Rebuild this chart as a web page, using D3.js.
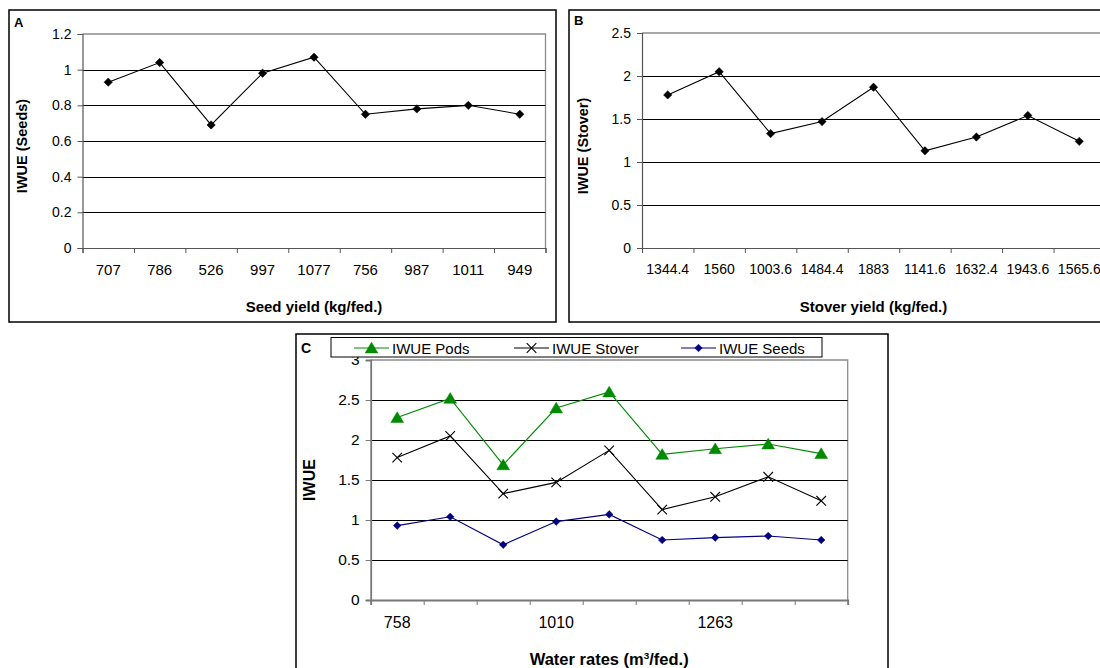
<!DOCTYPE html>
<html>
<head>
<meta charset="utf-8">
<script src="https://cdn.jsdelivr.net/npm/d3@7"></script>
<style>
  html, body { margin: 0; padding: 0; background: #fff; }
  svg { display: block; }
  text { font-family: "Liberation Sans", Arial, sans-serif; fill: #000; }
</style>
</head>
<body>
<svg id="chart" width="1100" height="668"></svg>
<script>
// ---------------- data ----------------
const seedYield   = ["707", "786", "526", "997", "1077", "756", "987", "1011", "949"];
const stoverYield = ["1344.4", "1560", "1003.6", "1484.4", "1883", "1141.6", "1632.4", "1943.6", "1565.6"];
const waterRateLabels = ["758", "", "", "1010", "", "", "1263", "", ""];

const iwueSeeds  = [0.93, 1.04, 0.69, 0.98, 1.07, 0.75, 0.78, 0.80, 0.75];
const iwueStover = [1.78, 2.05, 1.33, 1.47, 1.87, 1.13, 1.29, 1.54, 1.24];
const iwuePods   = [2.28, 2.52, 1.69, 2.40, 2.60, 1.82, 1.89, 1.95, 1.83];

const ticksA = [0, 0.2, 0.4, 0.6, 0.8, 1, 1.2];
const ticksB = [0, 0.5, 1, 1.5, 2, 2.5];
const ticksC = [0, 0.5, 1, 1.5, 2, 2.5, 3];

const legendNames = ["IWUE Pods", "IWUE Stover", "IWUE Seeds"];

// ---------------- helpers ----------------
const svg = d3.select("#chart");
const FONT = '"Liberation Sans", Arial, sans-serif';

const shapes = {
  diamond: r => `M0,${-r}L${r},0L0,${r}L${-r},0Z`,
  triangle: r => `M0,${-r}L${r * 1.1},${r * 0.85}L${-r * 1.1},${r * 0.85}Z`,
  cross: r => `M${-r},${-r}L${r},${r}M${-r},${r}L${r},${-r}`
};

function panelBox(x0, y0, x1, y1) {
  svg.append("rect").attr("x", x0).attr("y", y0).attr("width", x1 - x0).attr("height", y1 - y0)
    .attr("fill", "#fff").attr("stroke", "#000").attr("stroke-width", 1.5);
}

function drawPlot(cfg) {
  const g = svg.append("g");
  const n = cfg.labels.length;
  const x = d3.scaleBand().domain(d3.range(n)).range([cfg.left, cfg.right]);
  const xEdge = d3.scaleLinear().domain([0, n]).range([cfg.left, cfg.right]);
  const y = d3.scaleLinear().domain([0, cfg.ymax]).range([cfg.bottom, cfg.top]);

  // plot area border (gray, top & right)
  g.append("path")
    .attr("d", `M${cfg.left},${cfg.top}H${cfg.right}V${cfg.bottom}`)
    .attr("fill", "none").attr("stroke", "#8c8c8c").attr("stroke-width", 1.3);

  // gridlines
  g.append("g").selectAll("line").data(cfg.ticks.filter(t => t > 0 && t < cfg.ymax)).join("line")
    .attr("x1", cfg.left).attr("x2", cfg.right)
    .attr("y1", d => Math.round(y(d)) + 0.5).attr("y2", d => Math.round(y(d)) + 0.5)
    .attr("stroke", "#000").attr("stroke-width", 1);

  // y axis
  const ya = g.append("g").attr("transform", `translate(${cfg.left},0)`)
    .call(d3.axisLeft(y).tickValues(cfg.ticks).tickSize(5).tickPadding(6).tickFormat(d3.format("")));
  ya.select(".domain").attr("stroke", cfg.axisColor || "#555").attr("stroke-width", cfg.axisWidth || 1.2);
  ya.selectAll(".tick line").attr("stroke", cfg.axisColor || "#555");
  ya.selectAll(".tick text").attr("font-family", FONT).attr("font-size", cfg.yTickFont).attr("fill", "#000");

  // x axis: tick marks at category boundaries
  const xa = g.append("g").attr("transform", `translate(0,${cfg.bottom})`)
    .call(d3.axisBottom(xEdge).tickValues(d3.range(n + 1)).tickSize(5).tickFormat(""));
  xa.select(".domain").attr("stroke", cfg.axisColor || "#555").attr("stroke-width", cfg.axisWidth || 1.2);
  xa.selectAll(".tick line").attr("stroke", cfg.axisColor || "#555");

  // x axis labels at category centers
  const xl = g.append("g").attr("transform", `translate(0,${cfg.bottom})`)
    .call(d3.axisBottom(x).tickSize(0).tickPadding(cfg.labelPad).tickFormat(i => cfg.labels[i]));
  xl.select(".domain").remove();
  xl.selectAll(".tick text").attr("font-family", FONT).attr("font-size", cfg.xTickFont).attr("fill", "#000");

  // series
  cfg.series.forEach(s => {
    const line = d3.line().x((d, i) => x(i) + x.bandwidth() / 2).y(d => y(d));
    g.append("path").datum(s.values).attr("d", line)
      .attr("fill", "none").attr("stroke", s.color).attr("stroke-width", 1.1);
    g.append("g").selectAll("path").data(s.values).join("path")
      .attr("transform", (d, i) => `translate(${x(i) + x.bandwidth() / 2},${y(d)})`)
      .attr("d", shapes[s.shape](s.size))
      .attr("fill", s.shape === "cross" ? "none" : s.color)
      .attr("stroke", s.color).attr("stroke-width", s.shape === "cross" ? 1.1 : 0.5);
  });

  // titles
  const xt = svg.append("text").attr("x", (cfg.left + cfg.right) / 2 + (cfg.xTitleShift || 0)).attr("y", cfg.xTitleY)
    .attr("text-anchor", "middle").attr("font-weight", "bold").attr("font-size", cfg.titleFont);
  if (cfg.xTitleParts) {
    cfg.xTitleParts.forEach(p => {
      const ts = xt.append("tspan").text(p.t);
      if (p.sup) ts.attr("font-size", cfg.titleFont * 0.6).attr("dy", -6);
      if (p.after) ts.attr("dy", 6);
    });
  } else {
    xt.text(cfg.xTitle);
  }
  svg.append("text")
    .attr("transform", `translate(${cfg.yTitleX},${cfg.yTitleY}) rotate(-90)`)
    .attr("text-anchor", "middle").attr("font-weight", "bold").attr("font-size", cfg.yTitleFont)
    .text(cfg.yTitle);

  return { x, y };
}

// ---------------- Panel A ----------------
panelBox(9, 10, 556, 322);
svg.append("text").attr("x", 14).attr("y", 27).attr("font-weight", "bold").attr("font-size", 13).text("A");
drawPlot({
  left: 82.5, right: 545.5, top: 34, bottom: 248, ymax: 1.2, ticks: ticksA,
  labels: seedYield, xTickFont: 15, yTickFont: 14, labelPad: 16, titleFont: 15, yTitleFont: 14.5,
  xTitle: "Seed yield (kg/fed.)", xTitleY: 312,
  yTitle: "IWUE (Seeds)", yTitleX: 27, yTitleY: 146,
  series: [{ values: iwueSeeds, color: "#000", shape: "diamond", size: 4.2 }]
});

// ---------------- Panel B ----------------
panelBox(569, 10, 1110, 322);
svg.append("text").attr("x", 574).attr("y", 25).attr("font-weight", "bold").attr("font-size", 13).text("B");
drawPlot({
  left: 642, right: 1105, top: 33, bottom: 248, ymax: 2.5, ticks: ticksB,
  labels: stoverYield, xTickFont: 14, yTickFont: 14, labelPad: 16, titleFont: 15, yTitleFont: 14.5,
  xTitle: "Stover yield (kg/fed.)", xTitleY: 312,
  yTitle: "IWUE (Stover)", yTitleX: 588, yTitleY: 146,
  series: [{ values: iwueStover, color: "#000", shape: "diamond", size: 4.2 }]
});

// ---------------- Panel C ----------------
panelBox(296, 334, 888, 720);
svg.append("text").attr("x", 301).attr("y", 353).attr("font-weight", "bold").attr("font-size", 14).text("C");
const seriesC = [
  { name: legendNames[0], values: iwuePods,   color: "#008a00", shape: "triangle", size: 5.8 },
  { name: legendNames[1], values: iwueStover, color: "#000",    shape: "cross",    size: 4.8 },
  { name: legendNames[2], values: iwueSeeds,  color: "#000080", shape: "diamond",  size: 3.8 }
];
drawPlot({
  left: 370.7, right: 847.7, top: 360, bottom: 600, ymax: 3, ticks: ticksC,
  labels: waterRateLabels, xTickFont: 16, yTickFont: 15.5, labelPad: 17, titleFont: 16.5, yTitleFont: 16,
  axisColor: "#777", axisWidth: 1.8,
  xTitleParts: [{ t: "Water rates (m" }, { t: "3", sup: true }, { t: "/fed.)", after: true }],
  xTitleY: 665,
  yTitle: "IWUE", yTitleX: 315, yTitleY: 480,
  series: seriesC
});

// legend
const leg = svg.append("g");
leg.append("rect").attr("x", 331).attr("y", 337.5).attr("width", 491).attr("height", 19.5)
  .attr("fill", "#fff").attr("stroke", "#000").attr("stroke-width", 1);
const legX = [354, 514, 681];
seriesC.forEach((s, i) => {
  const cy = 348;
  leg.append("line").attr("x1", legX[i]).attr("x2", legX[i] + 35).attr("y1", cy).attr("y2", cy)
    .attr("stroke", s.color).attr("stroke-width", 1.1);
  leg.append("path").attr("transform", `translate(${legX[i] + 17.5},${cy})`)
    .attr("d", shapes[s.shape](s.size))
    .attr("fill", s.shape === "cross" ? "none" : s.color)
    .attr("stroke", s.color).attr("stroke-width", s.shape === "cross" ? 1.1 : 0.5);
  leg.append("text").attr("x", legX[i] + 38).attr("y", cy + 5.5).attr("font-size", 15).text(s.name);
});
</script>
</body>
</html>
